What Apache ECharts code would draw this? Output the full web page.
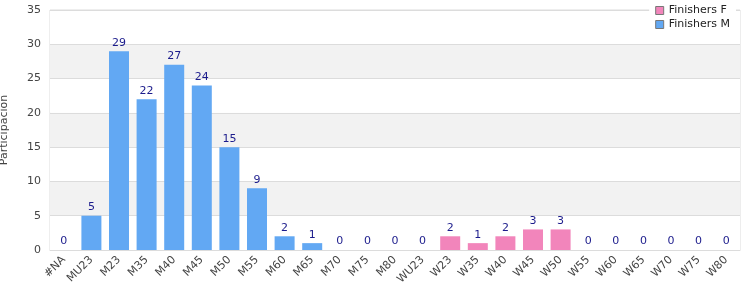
<!DOCTYPE html>
<html lang="es">
<head>
    <meta charset="UTF-8"/>
    <title>Participación</title>
    <style>
        * { padding: 0; margin: 0; }
        body { background: #fff; }
        #chart { width: 750px; height: 300px; }
    </style>
    <script src="https://cdn.jsdelivr.net/npm/echarts@6/dist/echarts.min.js"></script>
</head>
<body>
<div id="chart"></div>
<script>
    const categories = ["#NA", "MU23", "M23", "M35", "M40", "M45", "M50", "M55", "M60", "M65", "M70", "M75", "M80",
        "WU23", "W23", "W35", "W40", "W45", "W50", "W55", "W60", "W65", "W70", "W75", "W80"];
    // null = category belongs to the other series
    const finishersM = [0, 5, 29, 22, 27, 24, 15, 9, 2, 1, 0, 0, 0,
        null, null, null, null, null, null, null, null, null, null, null, null];
    const finishersF = [null, null, null, null, null, null, null, null, null, null, null, null, null,
        0, 2, 1, 2, 3, 3, 0, 0, 0, 0, 0, 0];

    const font = "DejaVu Sans";
    const labelStyle = {
        show: true,
        position: "top",
        color: "#1c1c8c",
        fontFamily: font,
        fontSize: 11,
        distance: 3
    };

    const myChart = echarts.init(document.getElementById("chart"));
    myChart.setOption({
        animation: false,
        textStyle: { fontFamily: font },
        grid: {
            left: 50, right: 10, top: 10, bottom: 50,
            show: true, borderColor: "#dcdcdc", borderWidth: 1,
            containLabel: false,
            outerBoundsMode: "none"
        },
        legend: {
            orient: "vertical",
            right: 14,
            top: 2,
            itemWidth: 8,
            itemHeight: 8,
            itemGap: 3,
            padding: [3, 6, 3, 6],
            backgroundColor: "#fff",
            icon: "rect",
            itemStyle: { borderColor: "#777", borderWidth: 1 },
            textStyle: { fontFamily: font, fontSize: 11, color: "#222" },
            data: ["Finishers F", "Finishers M"]
        },
        xAxis: {
            type: "category",
            data: categories,
            axisTick: { show: false },
            axisLine: { lineStyle: { color: "#dcdcdc" } },
            axisLabel: { rotate: 45, color: "#444", fontSize: 11, fontFamily: font, interval: 0, margin: 8 }
        },
        yAxis: {
            type: "value",
            min: 0, max: 35, interval: 5,
            name: "Participación",
            nameLocation: "middle",
            nameGap: 40,
            nameTextStyle: { color: "#444", fontSize: 11, fontFamily: font },
            axisLabel: { color: "#444", fontSize: 11, fontFamily: font, margin: 9 },
            splitLine: { lineStyle: { color: "#dcdcdc" } },
            splitArea: { show: true, areaStyle: { color: ["#fff", "#f2f2f2"] } }
        },
        series: [
            {
                name: "Finishers F",
                type: "bar",
                stack: "all",
                barWidth: 20,
                data: finishersF,
                itemStyle: { color: "#f285bb" },
                label: labelStyle
            },
            {
                name: "Finishers M",
                type: "bar",
                stack: "all",
                barWidth: 20,
                data: finishersM,
                itemStyle: { color: "#62a8f3" },
                label: labelStyle
            }
        ]
    });
</script>
</body>
</html>
